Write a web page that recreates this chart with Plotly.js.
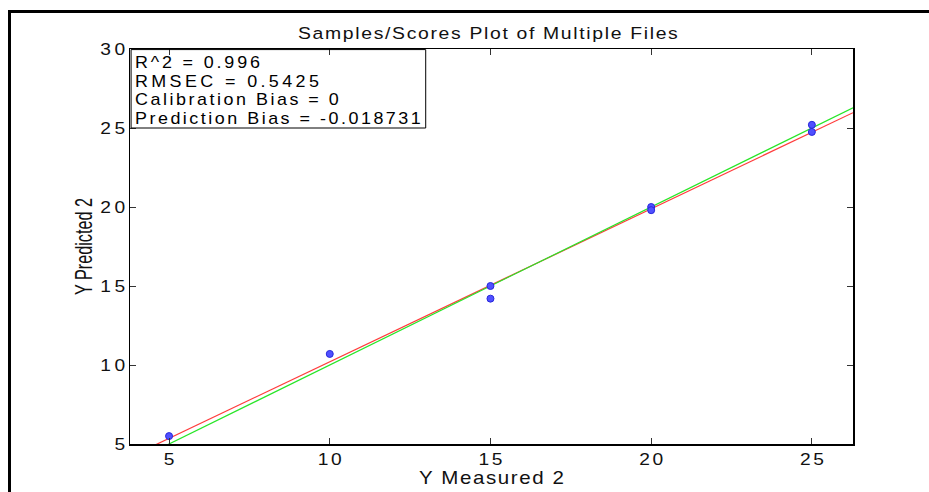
<!DOCTYPE html>
<html>
<head>
<meta charset="utf-8">
<script src="https://cdn.plot.ly/plotly-3.0.1.min.js"></script>
<style>
html,body{margin:0;padding:0;background:#fff;overflow:hidden;}
#chart{width:929px;height:492px;position:absolute;left:0;top:0;}
#frame{position:absolute;left:8px;top:10px;width:940px;height:500px;border:3px solid #000;pointer-events:none;box-sizing:border-box;}
</style>
</head>
<body>
<div id="chart"></div>
<div id="frame"></div>
<script>
// Data
const measured  = [5, 10, 15, 15, 20, 20, 25, 25];
const predicted = [5.5, 10.7, 15.0, 14.2, 20.0, 19.8, 25.2, 24.75];
const idealX = [3.785, 26.28];
const idealY = [3.785, 26.28];
const fitX = [3.785, 26.28];
const fitY = [4.18, 25.97];
const xTicks = [5, 10, 15, 20, 25];
const yTicks = [5, 10, 15, 20, 25, 30];
const statsLines = ["R^2 = 0.996", "RMSEC = 0.5425", "Calibration Bias = 0", "Prediction Bias = -0.018731"];
const chartTitle = "Samples/Scores Plot of Multiple Files";
const xLabel = "Y Measured 2";
const yLabel = "Y Predicted 2";

const font = "Liberation Sans, Arial, sans-serif";

const traces = [
  {x: fitX, y: fitY, mode: "lines", line: {color: "rgb(255,60,60)", width: 1.2}, hoverinfo: "skip"},
  {x: idealX, y: idealY, mode: "lines", line: {color: "rgb(40,230,40)", width: 1.2}, hoverinfo: "skip"},
  {x: measured, y: predicted, mode: "markers",
   marker: {symbol: "circle", size: 7, color: "rgb(80,80,255)", line: {color: "rgb(40,40,220)", width: 1}}}
];

const axisCommon = {
  showgrid: false, zeroline: false, showline: true, linecolor: "#000", linewidth: 1.5,
  mirror: "ticks", ticks: "inside", ticklen: 6, tickcolor: "#333", tickwidth: 1,
  tickfont: {family: font, size: 16, color: "#111"}
};

// stats box: one text line per annotation (MATLAB-tight line spacing)
const lineY = [0.9646, 0.9177, 0.8709, 0.8228];
const annotations = statsLines.map((s, i) => ({
  xref: "paper", yref: "paper", x: 0.0035, y: lineY[i], xanchor: "left", yanchor: "middle", align: "left",
  text: s, showarrow: false, font: {family: font, size: 16, color: "#000"}
}));

const layout = {
  width: 929, height: 492,
  margin: {l: 130, r: 76, t: 49, b: 48},
  paper_bgcolor: "#fff", plot_bgcolor: "#fff",
  showlegend: false,
  title: {text: chartTitle, font: {family: font, size: 17, color: "#111"},
          x: 0.495, xref: "paper", y: 1 - 33/492, yref: "container", yanchor: "middle"},
  xaxis: Object.assign({}, axisCommon, {
    range: [3.785, 26.28], tickvals: xTicks, ticktext: xTicks.map(String),
    title: {text: xLabel, font: {family: font, size: 18, color: "#111"}, standoff: 2}
  }),
  yaxis: Object.assign({}, axisCommon, {
    range: [5, 30], tickvals: yTicks, ticktext: yTicks.map(String),
    title: {text: yLabel, font: {family: font, size: 23, color: "#111"}, standoff: 8}
  }),
  shapes: [{type: "rect", xref: "paper", yref: "paper", x0: 0.0015, x1: 0.409, y0: 0.8, y1: 0.9985,
            line: {color: "#000", width: 1}, fillcolor: "rgba(0,0,0,0)", layer: "above"}],
  annotations: annotations
};

// widen a text horizontally (MATLAB export looks stretched) to a target visible width
function fit(t, target, anchor, sx) {
  const n = t.textContent.length;
  const nat = t.getComputedTextLength();
  let s = 0;
  if (n > 1) {
    s = (target / sx - nat) / (n - 1);
    if (s < 0) { sx = target / nat; s = 0; }
    t.style.letterSpacing = s + "px";
    if (anchor === "middle") t.setAttribute("dx", s / 2);
    if (anchor === "end") t.setAttribute("dx", s);
  }
  const ax = +t.getAttribute("x") || 0, ay = +t.getAttribute("y") || 0;
  const tr = t.getAttribute("transform") || "";
  t.setAttribute("transform", tr + " translate(" + ax + "," + ay + ") scale(" + sx + ",1) translate(" + (-ax) + "," + (-ay) + ")");
}

Plotly.newPlot("chart", traces, layout, {staticPlot: true}).then(() => {
  const q = s => Array.from(document.querySelectorAll(s));
  q("#chart .gtitle").forEach(t => fit(t, 380, "middle", 1.14));
  const annW = [125, 184, 204, 286];
  q("#chart .annotation-text").forEach((t, i) => {
    const bb = t.getBBox();
    t.setAttribute("text-anchor", "start");
    t.setAttribute("x", bb.x);
    fit(t, annW[i], "start", 1.12);
  });
  q("#chart .xtick text").forEach(t => fit(t, 24, "middle", 1.2));
  q("#chart .ytick text").forEach(t => fit(t, 25, "end", 1.2));
  q("#chart .xtitle").forEach(t => fit(t, 145, "middle", 1.14));
  q("#chart .ytitle").forEach(t => {
    const nat = t.getComputedTextLength();
    const sx = 97 / nat;
    const cx = +t.getAttribute("x"), cy = +t.getAttribute("y");
    const tr = t.getAttribute("transform") || "";
    t.setAttribute("transform", tr + " translate(" + cx + "," + cy + ") scale(" + sx + ",1) translate(" + (-cx) + "," + (-cy) + ")");
  });
});
</script>
</body>
</html>
